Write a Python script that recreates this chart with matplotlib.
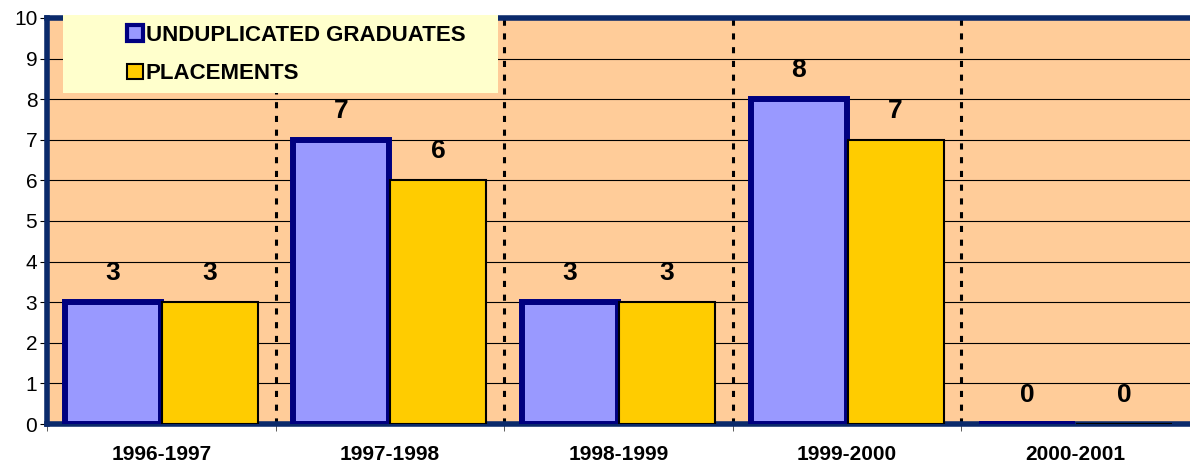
import matplotlib
matplotlib.use("Agg")
import matplotlib.pyplot as plt
from matplotlib.patches import Patch, Rectangle
import numpy as np

categories = ["1996-1997", "1997-1998", "1998-1999", "1999-2000", "2000-2001"]
graduates = [3, 7, 3, 8, 0]
placements = [3, 6, 3, 7, 0]
series_names = ["UNDUPLICATED GRADUATES", "PLACEMENTS"]

plt.rcParams['font.family'] = ['Liberation Sans', 'DejaVu Sans']

W, H = 1190, 465
fig = plt.figure(figsize=(W/100, H/100), dpi=100)
fig.patch.set_facecolor('white')
ax = fig.add_axes([47/W, 1-424/H, 1143/W, 406/H])
ax.set_facecolor('#FFCC99')

x = np.arange(len(categories))
bw = 0.42
off = 0.212
ax.bar(x - off, graduates, bw, color='#9999FF', edgecolor='#000080', linewidth=4.3, zorder=3)
ax.bar(x + off, placements, bw, color='#FFCC00', edgecolor='black', linewidth=1.5, zorder=3)

for xi, v in zip(x - off, graduates):
    ax.text(xi, v + 0.72, str(v), ha='center', va='center', fontsize=19, fontweight='bold', zorder=5)
for xi, v in zip(x + off, placements):
    ax.text(xi, v + 0.72, str(v), ha='center', va='center', fontsize=19, fontweight='bold', zorder=5)

ax.set_xlim(-0.5, len(categories) - 0.5)
ax.set_ylim(0, 10)
ax.set_yticks(range(0, 11))
ax.yaxis.grid(True, color='black', linewidth=0.8, zorder=1)
ax.set_axisbelow(True)
for b in np.arange(0.5, len(categories) - 0.5, 1.0):
    ax.axvline(b, color='black', linewidth=2.2, linestyle=(0, (2, 2.5)), zorder=2)

ax.set_xticks(x)
ax.set_xticklabels(categories, fontsize=15, fontweight='bold')
ax.tick_params(axis='x', length=0, pad=15)
ax.set_xticks(np.arange(-0.5, len(categories), 1.0), minor=True)
ax.tick_params(axis='x', which='minor', length=5, color='#404040')
ax.tick_params(axis='y', length=5, labelsize=15, pad=2)

for s in ['left', 'top', 'bottom']:
    ax.spines[s].set_color('#0b2a6b')
    ax.spines[s].set_linewidth(4)
ax.spines['right'].set_visible(False)

# legend
fig.patches.append(Rectangle((63/W, 1-93/H), 435/W, 78/H, transform=fig.transFigure,
                             facecolor='#FFFFCC', edgecolor='none', zorder=10))
handles = [Patch(facecolor='#9999FF', edgecolor='#000080', linewidth=3, label=series_names[0]),
           Patch(facecolor='#FFCC00', edgecolor='black', linewidth=1.5, label=series_names[1])]
leg = fig.legend(handles=handles, loc='upper left', bbox_to_anchor=(127/W, 1-25/H),
                 frameon=False, prop={'weight': 'bold', 'size': 16},
                 handlelength=0.7, handleheight=0.7, handletextpad=0.15, labelspacing=0.78,
                 borderaxespad=0, borderpad=0)
leg.set_zorder(11)

fig.savefig('out.png', dpi=100)
